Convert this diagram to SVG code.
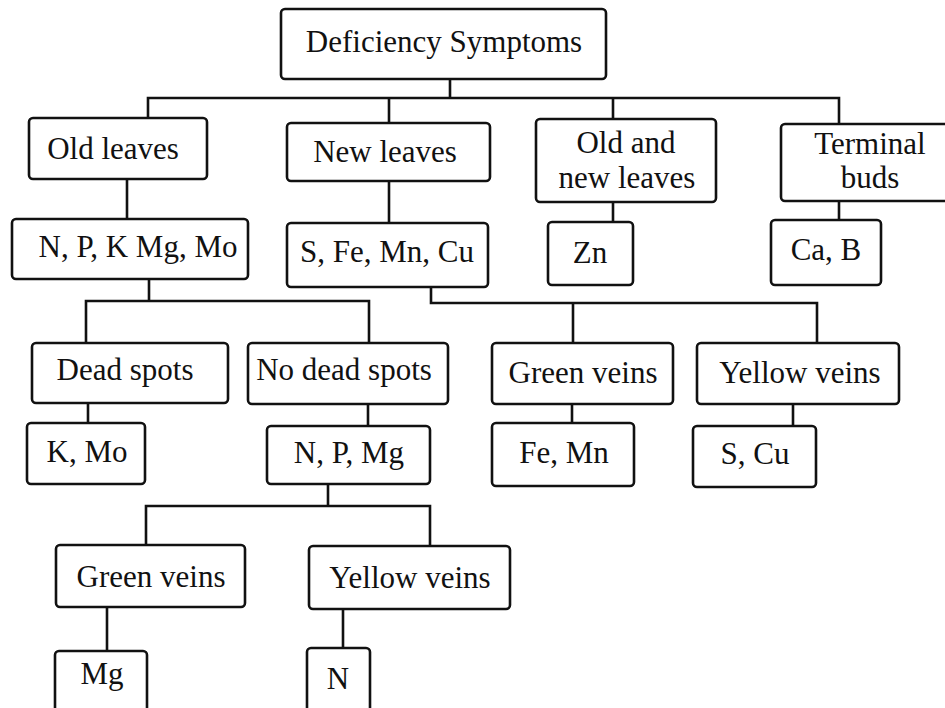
<svg xmlns="http://www.w3.org/2000/svg" width="945" height="708" viewBox="0 0 945 708">
<style>
.box{fill:#fff;stroke:#111;stroke-width:2.6}
.t{font-family:"Liberation Serif","Times New Roman",serif;font-size:31px;fill:#111;text-anchor:middle}
.c{fill:none;stroke:#111;stroke-width:2.6;stroke-linecap:square}
</style>
<rect width="945" height="708" fill="#fff"/>
<g id="connectors">
<path class="c" d="M450 79V98M148 98H839M148 98V118M389 98V124M613 98V119M839 98V124"/>
<path class="c" d="M127 179V219M389 181V223M613 202V222M839 201V220"/>
<path class="c" d="M149 279V301M86 301H369M86 301V343M369 301V343"/>
<path class="c" d="M431 287V303H817M573 303V343M817 303V343"/>
<path class="c" d="M88 403V423M368 404V426M572 404V423M793 404V426"/>
<path class="c" d="M328 484V506M146 506H430M146 506V545M430 506V546"/>
<path class="c" d="M107 607V651M343 609V648"/>
</g>
<g id="n-root"><rect class="box" x="281" y="9" width="325" height="70" rx="4"/><text class="t" x="444" y="52">Deficiency Symptoms</text></g>
<g id="n-old"><rect class="box" x="29" y="118" width="178" height="61" rx="4"/><text class="t" x="113" y="159">Old leaves</text></g>
<g id="n-new"><rect class="box" x="287" y="123" width="203" height="58" rx="4"/><text class="t" x="385" y="162">New leaves</text></g>
<g id="n-oldnew"><rect class="box" x="536" y="119" width="180" height="83" rx="4"/><text class="t" x="626" y="153">Old and</text><text class="t" x="627" y="188">new leaves</text></g>
<g id="n-term"><rect class="box" x="781" y="124" width="170" height="77" rx="4"/><text class="t" x="870" y="154">Terminal</text><text class="t" x="870" y="188">buds</text></g>
<g id="n-npk"><rect class="box" x="12" y="219" width="236" height="60" rx="4"/><text class="t" x="138" y="257">N, P, K Mg, Mo</text></g>
<g id="n-sfe"><rect class="box" x="287" y="223" width="201" height="64" rx="4"/><text class="t" x="387" y="262">S, Fe, Mn, Cu</text></g>
<g id="n-zn"><rect class="box" x="548" y="222" width="85" height="63" rx="4"/><text class="t" x="590" y="263">Zn</text></g>
<g id="n-cab"><rect class="box" x="771" y="220" width="110" height="65" rx="4"/><text class="t" x="826" y="260">Ca, B</text></g>
<g id="n-dead"><rect class="box" x="32" y="343" width="196" height="60" rx="4"/><text class="t" x="125" y="380">Dead spots</text></g>
<g id="n-nodead"><rect class="box" x="248" y="343" width="200" height="61" rx="4"/><text class="t" x="344" y="380">No dead spots</text></g>
<g id="n-green1"><rect class="box" x="492" y="343" width="181" height="61" rx="4"/><text class="t" x="583" y="383">Green veins</text></g>
<g id="n-yellow1"><rect class="box" x="697" y="343" width="202" height="61" rx="4"/><text class="t" x="800" y="383">Yellow veins</text></g>
<g id="n-kmo"><rect class="box" x="27" y="423" width="118" height="61" rx="4"/><text class="t" x="87" y="462">K, Mo</text></g>
<g id="n-npmg"><rect class="box" x="267" y="426" width="163" height="58" rx="4"/><text class="t" x="349" y="463">N, P, Mg</text></g>
<g id="n-femn"><rect class="box" x="492" y="423" width="142" height="63" rx="4"/><text class="t" x="564" y="463">Fe, Mn</text></g>
<g id="n-scu"><rect class="box" x="693" y="426" width="123" height="61" rx="4"/><text class="t" x="755" y="464">S, Cu</text></g>
<g id="n-green2"><rect class="box" x="56" y="545" width="189" height="62" rx="4"/><text class="t" x="151" y="587">Green veins</text></g>
<g id="n-yellow2"><rect class="box" x="309" y="546" width="201" height="63" rx="4"/><text class="t" x="410" y="588">Yellow veins</text></g>
<g id="n-mg"><rect class="box" x="55" y="651" width="92" height="62" rx="4"/><text class="t" x="102" y="684">Mg</text></g>
<g id="n-n"><rect class="box" x="307" y="648" width="63" height="65" rx="4"/><text class="t" x="338" y="689">N</text></g>
</svg>
